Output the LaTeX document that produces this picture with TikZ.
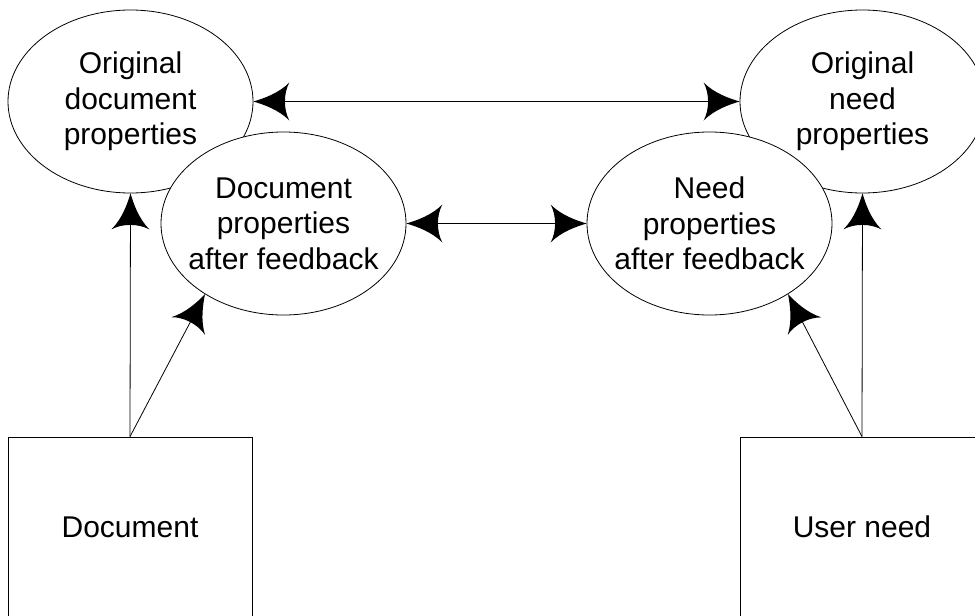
\documentclass[tikz,border=0pt]{standalone}
\usepackage{fontspec}
\setmainfont{Liberation Sans}
\usetikzlibrary{shapes.geometric,arrows.meta}

% Filled arrow head with concave flanks and a hollowed back
\pgfdeclarearrow{
  name = Barb,
  setup code = {
    \pgfarrowssettipend{0pt}
    \pgfarrowssetlineend{-28pt}
    \pgfarrowssetbackend{-36pt}
    \pgfarrowssetvisualbackend{-31pt}
    \pgfarrowshullpoint{0pt}{0pt}
    \pgfarrowshullpoint{-36pt}{19pt}
    \pgfarrowshullpoint{-36pt}{-19pt}
  },
  drawing code = {
    \pgfpathmoveto{\pgfpointorigin}
    \pgfpathcurveto{\pgfpoint{-10pt}{3pt}}{\pgfpoint{-25pt}{8pt}}{\pgfpoint{-36pt}{19pt}}
    \pgfpathcurveto{\pgfpoint{-30pt}{8pt}}{\pgfpoint{-30pt}{-8pt}}{\pgfpoint{-36pt}{-19pt}}
    \pgfpathcurveto{\pgfpoint{-25pt}{-8pt}}{\pgfpoint{-10pt}{-3pt}}{\pgfpointorigin}
    \pgfpathclose
    \pgfusepathqfill
  }
}

\tikzset{
  prop/.style={ellipse, draw, fill=white, line width=0.8pt,
    minimum width=245pt, minimum height=183pt,
    inner xsep=-12pt, inner ysep=0pt,
    align=center, font=\fontsize{30}{35.5}\selectfont},
  source/.style={rectangle, draw, fill=white, line width=0.8pt,
    minimum width=244pt, minimum height=180pt, inner sep=0pt,
    font=\fontsize{30}{35.5}\selectfont},
  link/.style={line width=0.8pt, -{Barb}},
  twoway/.style={line width=0.8pt, {Barb}-{Barb}}
}

\begin{document}
\begin{tikzpicture}[x=1pt, y=-1pt]
  \clip (0,0) rectangle (975,616);

  % original property sets (drawn first, partly covered)
  \node[prop] (odp) at (130.5,101.5) {Original\\document\\properties};
  \node[prop] (onp) at (862.5,101.5) {Original\\need\\properties};

  % property sets after feedback
  \node[prop] (fdp) at (283.5,223.5) {Document\\properties\\after feedback};
  \node[prop] (fnp) at (709.5,223.5) {Need\\properties\\after feedback};

  % sources
  \node[source] (doc) at (130,527) {Document};
  \node[source] (usr) at (862,527) {User need};

  % comparisons
  \draw[twoway] (odp.east) -- (onp.west);
  \draw[twoway] (fdp.east) -- (fnp.west);

  % derivations
  \draw[link] (doc.north) -- (odp.south);
  \draw[link] (doc.north) -- (fdp.222);
  \draw[link] (usr.north) -- (onp.south);
  \draw[link] (usr.north) -- (fnp.318);
\end{tikzpicture}
\end{document}
